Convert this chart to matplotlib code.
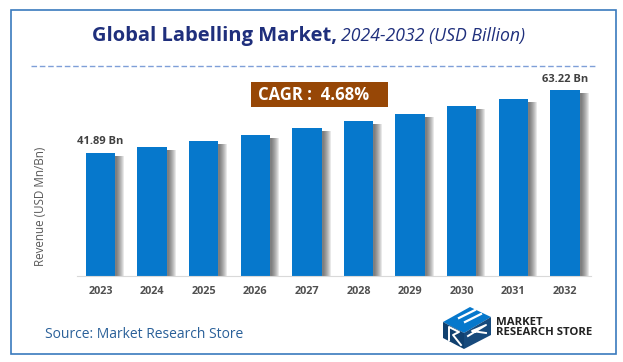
"""Global Labelling Market bar chart, 2024-2032."""
import matplotlib
matplotlib.use("Agg")
import matplotlib.pyplot as plt
from matplotlib.patches import Polygon, Rectangle

W, H = 623, 362

years = ["2023", "2024", "2025", "2026", "2027", "2028", "2029", "2030", "2031", "2032"]
revenue = [41.89, 43.9, 45.9, 48.0, 50.3, 52.7, 55.1, 57.8, 60.2, 63.22]
bar_labels = {0: "41.89 Bn", 9: "63.22 Bn"}

BLUE = "#0678CC"
NAVY = "#1F2F7C"
FRAME = "#3A7ABD"
BROWN = "#974706"
FONT = ["Open Sans", "DejaVu Sans"]

plt.rcParams["font.family"] = FONT


def ax_rect(left, top, right, bottom):
    return [left / W, 1 - bottom / H, (right - left) / W, (bottom - top) / H]


fig = plt.figure(figsize=(W / 100, H / 100), dpi=100, facecolor="white")

# overlay in pixel coordinates for frame, title and logo
bg = fig.add_axes([0, 0, 1, 1])
bg.set_xlim(0, W)
bg.set_ylim(H, 0)
bg.axis("off")
bg.add_patch(Rectangle((10.5, 9.5), 605, 344, fill=False, edgecolor=FRAME, linewidth=1.2))
bg.plot([31, 595], [65.5, 65.5], color="#7F9FD8", linewidth=1, linestyle=(0, (4, 2)))

bg.text(92, 36, "Global Labelling Market,", color=NAVY, fontsize=14.5,
        fontweight="bold", va="center", ha="left")
bg.text(341, 36, "2024-2032 (USD Billion)", color=NAVY, fontsize=12.7,
        fontstyle="italic", va="center", ha="left")

bg.add_patch(Rectangle((251, 82), 137, 25, facecolor=BROWN, edgecolor="none"))
bg.text(258, 95, "CAGR :  4.68%", color="white", fontsize=12, fontweight="bold",
        va="center", ha="left")

bg.text(45, 334, "Source: Market Research Store", color="#2A6099", fontsize=10,
        va="center", ha="left")

# logo
bg.add_patch(Polygon([[443, 322], [470, 307], [491, 317], [464, 333]], facecolor="#0678CC"))
bg.add_patch(Polygon([[443, 322], [464, 333], [464, 349], [443, 338]], facecolor="#10406F"))
bg.add_patch(Polygon([[464, 333], [491, 317], [491, 335], [464, 349]], facecolor="#174A7C"))
bg.plot([459, 475], [318, 310], color="white", linewidth=1.6)
bg.plot([465, 481], [322, 314], color="white", linewidth=1.6)
bg.plot([449, 449, 459, 453, 461], [340, 327, 332, 335, 345], color="white", linewidth=1.4)
bg.plot([468, 486, 472, 486], [336, 325, 331, 333], color="white", linewidth=1.4)
bg.text(496, 327.7, "MARKET\nRESEARCH STORE", color="#222222", fontsize=8.2,
        fontweight="bold", va="center", ha="left", linespacing=0.85)

# bars
ax = fig.add_axes(ax_rect(76.5, 70, 591, 276))
ax.patch.set_alpha(0)
slot = 51.6
ax.set_xlim((76.5 - 100.5) / slot, (591 - 100.5) / slot)
ax.set_ylim(0, 206 / 2.94)
x = list(range(len(years)))

# soft shadow to the right of each bar
for offset in range(9, 1, -1):
    ax.bar([i + offset / slot for i in x], [v - 1 for v in revenue], width=29.5 / slot,
           color="#303030", alpha=0.11, linewidth=0, zorder=1)
ax.bar(x, revenue, width=29.5 / slot, color=BLUE, linewidth=0, zorder=2)

for i, label in bar_labels.items():
    ax.annotate(label, (i, revenue[i]), xytext=(0, 4), textcoords="offset points",
                ha="center", va="bottom", fontsize=8, fontweight="bold", color="#404040")

ax.set_xticks(x)
ax.set_xticklabels(years, fontsize=7.8, fontweight="bold", color="#505050")
ax.tick_params(axis="x", length=0, pad=7.5)
ax.set_yticks([])
for side in ("top", "right", "left"):
    ax.spines[side].set_visible(False)
ax.spines["bottom"].set_color("#D9D9D9")
ax.set_ylabel("Revenue (USD Mn/Bn)", fontsize=8.4, color="#595959", labelpad=0)
ax.yaxis.set_label_coords((40 - 76.5) / 514.5, (276 - 206) / 206)
ax.yaxis.label.set_va("center")

fig.savefig("out.png", dpi=100)
